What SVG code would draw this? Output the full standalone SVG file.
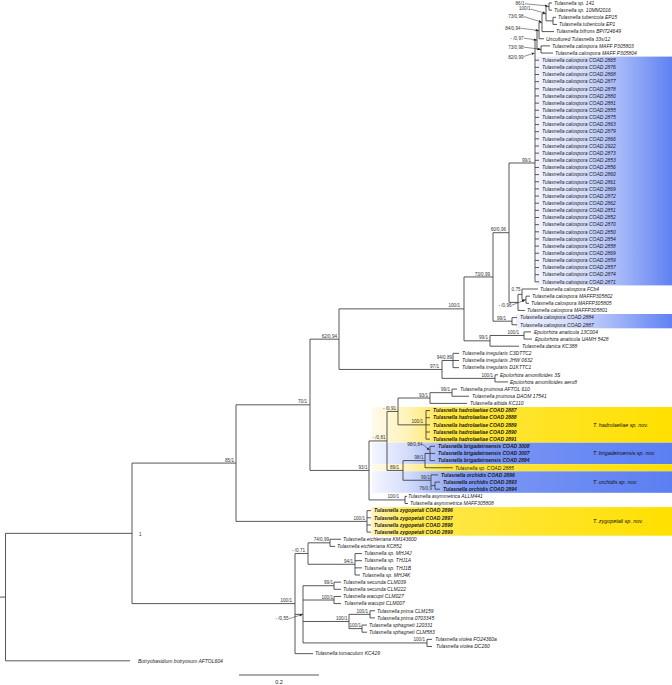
<svg xmlns="http://www.w3.org/2000/svg" width="672" height="685" viewBox="0 0 672 685">
<defs>
<style>
.l{font-family:"Liberation Sans",Arial,sans-serif;font-size:5px;font-style:italic;fill:#1a1a1a}
.b{font-weight:bold}
.s{font-family:"Liberation Sans",Arial,sans-serif;font-size:4.6px;fill:#333;text-anchor:end}
.t{font-family:"Liberation Sans",Arial,sans-serif;font-size:5.4px;font-style:italic;fill:#111}
.e{fill:none;stroke:#3a3a3a;stroke-width:0.85}
.a{fill:none;stroke:#222;stroke-width:0.5;marker-end:url(#ah)}
</style>
<linearGradient id="gUp" x1="0" y1="0" x2="1" y2="0">
<stop offset="0" stop-color="#f0f3fe"/><stop offset="0.35" stop-color="#d6defb"/><stop offset="1" stop-color="#5f81f2"/>
</linearGradient>
<linearGradient id="gBl" x1="0" y1="0" x2="1" y2="0">
<stop offset="0" stop-color="#f4f6ff"/><stop offset="0.12" stop-color="#d3dcfb"/><stop offset="0.3" stop-color="#7f9af4"/><stop offset="1" stop-color="#5b7ef2"/>
</linearGradient>
<linearGradient id="gYe" x1="0" y1="0" x2="1" y2="0">
<stop offset="0" stop-color="#fffaec"/><stop offset="0.12" stop-color="#fff2b8"/><stop offset="0.25" stop-color="#ffe640"/><stop offset="1" stop-color="#ffe000"/>
</linearGradient>
<linearGradient id="gZy" x1="0" y1="0" x2="1" y2="0">
<stop offset="0" stop-color="#fff4c0"/><stop offset="0.12" stop-color="#ffe850"/><stop offset="1" stop-color="#ffe000"/>
</linearGradient>
<marker id="ah" viewBox="0 0 6 6" refX="5.5" refY="3" markerWidth="3" markerHeight="3" markerUnits="userSpaceOnUse" orient="auto"><path d="M0,0.5L6,3L0,5.5z" fill="#222"/></marker>
</defs>
<rect width="672" height="685" fill="#fff"/>
<g id="clade-boxes">
<rect x="536.5" y="56.6" width="135.5" height="228.8" fill="url(#gUp)"/>
<rect x="516" y="314" width="156" height="14.3" fill="url(#gUp)"/>
<rect x="372" y="407" width="300" height="35.7" fill="url(#gYe)"/>
<rect x="372" y="442.7" width="300" height="21.5" fill="url(#gBl)"/>
<rect x="372" y="464.2" width="300" height="7.1" fill="url(#gYe)"/>
<rect x="372" y="471.3" width="300" height="21.5" fill="url(#gBl)"/>
<rect x="371" y="507.1" width="301" height="28.6" fill="url(#gZy)"/>
</g>
<g id="connectors" class="e">
<path d="M0,597.08H5.5M5.5,533.35V660.8M5.5,533.35H132M5.5,660.8H130"/>
<path d="M132,463.09V603.6M132,463.09H236M132,603.6H295"/>
<path d="M236,404.8V521.38M236,404.8H310M236,521.38H367"/>
<path d="M367,510.65V532.1M367,510.65H371M367,517.8H371M367,524.95H371M367,532.1H371"/>
<path d="M310,339.17V470.43M310,339.17H339M310,470.43H369"/>
<path d="M339,308.89V369.44M339,308.89H464M339,369.44H442"/>
<path d="M464,276.94V340.84M464,276.94H493M464,340.84H490"/>
<path d="M493,232.7V321.18M493,232.7H509M493,321.18H512"/>
<path d="M512,317.6V324.75M512,317.6H517M512,324.75H517"/>
<path d="M509,163V302.4M509,163H535M509,302.4H518"/>
<path d="M535,40.09V281.85M535,40.09H537M535,60.2H539M535,67.35H539M535,74.5H539M535,81.65H539M535,88.8H539M535,95.95H539M535,103.1H539M535,110.25H539M535,117.4H539M535,124.55H539M535,131.7H539M535,138.85H539M535,146H539M535,153.15H539M535,160.3H539M535,167.45H539M535,174.6H539M535,181.75H539M535,188.9H539M535,196.05H539M535,203.2H539M535,210.35H539M535,217.5H539M535,224.65H539M535,231.8H539M535,238.95H539M535,246.1H539M535,253.25H539M535,260.4H539M535,267.55H539M535,274.7H539M535,281.85H539"/>
<path d="M537,30.7V49.48M537,30.7H539M537,49.48H541"/>
<path d="M539,22.66V38.75M539,22.66H542M539,38.75H544"/>
<path d="M542,13.73V31.6M542,13.73H546M542,31.6H554"/>
<path d="M546,6.58V20.88M546,6.58H549M546,20.88H553"/>
<path d="M549,3V10.15M549,3H552M549,10.15H552"/>
<path d="M553,17.3V24.45M553,17.3H556M553,24.45H557"/>
<path d="M541,45.9V53.05M541,45.9H550M541,53.05H553"/>
<path d="M518,294.36V310.45M518,294.36H522M518,310.45H525"/>
<path d="M522,289V299.73M522,289H538M522,299.73H526"/>
<path d="M526,296.15V303.3M526,296.15H530M526,303.3H529"/>
<path d="M490,335.48V346.2M490,335.48H524M490,346.2H519"/>
<path d="M524,331.9V339.05M524,331.9H531M524,339.05H532"/>
<path d="M442,360.5V378.38M442,360.5H453M442,378.38H495"/>
<path d="M453,353.35V367.65M453,353.35H459M453,360.5H459M453,367.65H459"/>
<path d="M495,374.8V381.95M495,374.8H498M495,381.95H508"/>
<path d="M369,440.94V499.93M369,440.94H387M369,499.93H405"/>
<path d="M405,496.35V503.5M405,496.35H407M405,503.5H408"/>
<path d="M387,411.45V470.43M387,411.45H398M387,470.43H403"/>
<path d="M398,398.04V424.85M398,398.04H430M398,424.85H426"/>
<path d="M430,392.68V403.4M430,392.68H452M430,403.4H467"/>
<path d="M452,389.1V396.25M452,389.1H457M452,396.25H469"/>
<path d="M426,410.55V439.15M426,410.55H430M426,417.7H430M426,424.85H430M426,432H430M426,439.15H430"/>
<path d="M403,460.6V480.26M403,460.6H425M403,480.26H431"/>
<path d="M425,453.45V467.75M425,453.45H430M425,467.75H453"/>
<path d="M430,446.3V460.6M430,446.3H435M430,453.45H435M430,460.6H435"/>
<path d="M431,474.9V485.63M431,474.9H438M431,485.63H435"/>
<path d="M435,482.05V489.2M435,482.05H440M435,489.2H440"/>
<path d="M295,553.55V653.65M295,553.55H308M295,614.33H303M295,653.65H313"/>
<path d="M308,542.83V564.28M308,542.83H330M308,564.28H355"/>
<path d="M330,539.25V546.4M330,539.25H341M330,546.4H335"/>
<path d="M355,553.55V575M355,553.55H362M355,560.7H362M355,567.85H362M355,575H360"/>
<path d="M303,585.73V642.93M303,585.73H334M303,600.03H334M303,621.48H349M303,642.93H427"/>
<path d="M334,582.15V589.3M334,582.15H341M334,589.3H341"/>
<path d="M334,596.45V603.6M334,596.45H341M334,603.6H341"/>
<path d="M349,614.33V628.63M349,614.33H370M349,628.63H362"/>
<path d="M370,610.75V617.9M370,610.75H375M370,617.9H375"/>
<path d="M362,625.05V632.2M362,625.05H367M362,632.2H367"/>
<path d="M427,639.35V646.5M427,639.35H432M427,646.5H432"/>
<path d="M239,675H319"/>
</g>
<g id="arrows">
<path class="a" d="M525,3.8L547.5,5.9"/>
<path class="a" d="M531,9.2L545.3,13.3"/>
<path class="a" d="M524,16.6L541.3,22"/>
<path class="a" d="M521,28.3L538.3,30.4"/>
<path class="a" d="M524,38.2L536.3,39.9"/>
<path class="a" d="M524,47.2L540.3,49.2"/>
<path class="a" d="M524,56.4L534.3,53"/>
<path class="a" d="M512,305L524.8,300.3"/>
<path class="a" d="M423,444.6L429.4,450"/>
<path class="a" d="M289,618.6L302.3,614.6"/>
</g>
<g id="supports" class="s">
<text x="524.5" y="4.8">86/1</text>
<text x="530.5" y="10.3">100/1</text>
<text x="523.5" y="18">73/0,98</text>
<text x="520.5" y="29.8">84/0,94</text>
<text x="523.5" y="39.8">- /0,97</text>
<text x="523.5" y="48.8">73/0,98</text>
<text x="523.5" y="58.8">82/0,99</text>
<text x="531" y="161.5">99/1</text>
<text x="506" y="231.3">60/0,96</text>
<text x="490" y="275.5">73/0,99</text>
<text x="520.5" y="291">0,75</text>
<text x="511.5" y="306.8">- /0,96</text>
<text x="506" y="319.6">99/1</text>
<text x="460" y="307.3">100/1</text>
<text x="488" y="339.3">99/1</text>
<text x="519" y="333.9">100/1</text>
<text x="337" y="337.6">62/0,94</text>
<text x="439" y="367.9">97/1</text>
<text x="452" y="358.9">94/0,89</text>
<text x="493" y="376.8">100/1</text>
<text x="307" y="403.2">70/1</text>
<text x="450" y="391.1">99/1</text>
<text x="428" y="396.5">93/1</text>
<text x="396" y="409.9">- /0,91</text>
<text x="423" y="423.3">100/1</text>
<text x="385.5" y="439.4">- /0,81</text>
<text x="422.5" y="446">98/0,84</text>
<text x="423.5" y="459">98/1</text>
<text x="399" y="468.9">89/1</text>
<text x="367.5" y="468.9">93/1</text>
<text x="430" y="478.7">99/1</text>
<text x="432" y="490.2">76/0,9</text>
<text x="399" y="498.4">100/1</text>
<text x="365" y="519.8">100/1</text>
<text x="234" y="461.5">85/1</text>
<text x="139" y="535.6" text-anchor="start">1</text>
<text x="292" y="602">100/1</text>
<text x="305" y="552">- /0,71</text>
<text x="329" y="541.3">74/0,99</text>
<text x="353" y="562.7">94/1</text>
<text x="333" y="584.2">99/1</text>
<text x="333" y="598.5">100/1</text>
<text x="347.5" y="620">100/1</text>
<text x="368" y="612.8">100/1</text>
<text x="361" y="627.1">100/1</text>
<text x="425" y="641.4">100/1</text>
<text x="288.5" y="620.3">- /0,55</text>
</g>
<g id="leaves" class="l">
<g id="n1"><text x="554" y="4.75">Tulasnella sp. 141</text></g>
<g id="n2"><text x="554" y="11.9">Tulasnella sp. 10MM2016</text></g>
<g id="n3"><text x="558" y="19.05">Tulasnella tubericola EP15</text></g>
<g id="n4"><text x="559" y="26.2">Tulasnella tubericola EP1</text></g>
<g id="n5"><text x="556" y="33.35">Tulasnella bifrons BPI724649</text></g>
<g id="n6"><text x="546" y="40.5">Uncultured Tulasnella 33s/12</text></g>
<g id="n7"><text x="552" y="47.65">Tulasnella calospora MAFF P305803</text></g>
<g id="n8"><text x="555" y="54.8">Tulasnella calospora MAFF P305804</text></g>
<g id="n9"><text x="542" y="61.95">Tulasnella calospora COAD 2865</text></g>
<g id="n10"><text x="542" y="69.1">Tulasnella calospora COAD 2876</text></g>
<g id="n11"><text x="542" y="76.25">Tulasnella calospora COAD 2868</text></g>
<g id="n12"><text x="542" y="83.4">Tulasnella calospora COAD 2877</text></g>
<g id="n13"><text x="542" y="90.55">Tulasnella calospora COAD 2878</text></g>
<g id="n14"><text x="542" y="97.7">Tulasnella calospora COAD 2880</text></g>
<g id="n15"><text x="542" y="104.85">Tulasnella calospora COAD 2881</text></g>
<g id="n16"><text x="542" y="112">Tulasnella calospora COAD 2855</text></g>
<g id="n17"><text x="542" y="119.15">Tulasnella calospora COAD 2875</text></g>
<g id="n18"><text x="542" y="126.3">Tulasnella calospora COAD 2863</text></g>
<g id="n19"><text x="542" y="133.45">Tulasnella calospora COAD 2879</text></g>
<g id="n20"><text x="542" y="140.6">Tulasnella calospora COAD 2866</text></g>
<g id="n21"><text x="542" y="147.75">Tulasnella calospora COAD 2922</text></g>
<g id="n22"><text x="542" y="154.9">Tulasnella calospora COAD 2873</text></g>
<g id="n23"><text x="542" y="162.05">Tulasnella calospora COAD 2853</text></g>
<g id="n24"><text x="542" y="169.2">Tulasnella calospora COAD 2856</text></g>
<g id="n25"><text x="542" y="176.35">Tulasnella calospora COAD 2860</text></g>
<g id="n26"><text x="542" y="183.5">Tulasnella calospora COAD 2861</text></g>
<g id="n27"><text x="542" y="190.65">Tulasnella calospora COAD 2869</text></g>
<g id="n28"><text x="542" y="197.8">Tulasnella calospora COAD 2872</text></g>
<g id="n29"><text x="542" y="204.95">Tulasnella calospora COAD 2862</text></g>
<g id="n30"><text x="542" y="212.1">Tulasnella calospora COAD 2851</text></g>
<g id="n31"><text x="542" y="219.25">Tulasnella calospora COAD 2852</text></g>
<g id="n32"><text x="542" y="226.4">Tulasnella calospora COAD 2870</text></g>
<g id="n33"><text x="542" y="233.55">Tulasnella calospora COAD 2850</text></g>
<g id="n34"><text x="542" y="240.7">Tulasnella calospora COAD 2854</text></g>
<g id="n35"><text x="542" y="247.85">Tulasnella calospora COAD 2858</text></g>
<g id="n36"><text x="542" y="255">Tulasnella calospora COAD 2869</text></g>
<g id="n37"><text x="542" y="262.15">Tulasnella calospora COAD 2859</text></g>
<g id="n38"><text x="542" y="269.3">Tulasnella calospora COAD 2857</text></g>
<g id="n39"><text x="542" y="276.45">Tulasnella calospora COAD 2874</text></g>
<g id="n40"><text x="542" y="283.6">Tulasnella calospora COAD 2871</text></g>
<g id="n41"><text x="540" y="290.75">Tulasnella calospora FCb4</text></g>
<g id="n42"><text x="532" y="297.9">Tulasnella calospora MAFFP305802</text></g>
<g id="n43"><text x="531" y="305.05">Tulasnella calospora MAFFP305805</text></g>
<g id="n44"><text x="527" y="312.2">Tulasnella calospora MAFFP305801</text></g>
<g id="n45"><text x="520" y="319.35">Tulasnella calospora COAD 2884</text></g>
<g id="n46"><text x="520" y="326.5">Tulasnella calospora COAD 2887</text></g>
<g id="n47"><text x="534" y="333.65">Epulorhiza anaticula 13C004</text></g>
<g id="n48"><text x="535" y="340.8">Epulorhiza anaticula UAMH 5428</text></g>
<g id="n49"><text x="522" y="347.95">Tulasnella danica KC388</text></g>
<g id="n50"><text x="462" y="355.1">Tulasnella irregularis C3DTTC2</text></g>
<g id="n51"><text x="462" y="362.25">Tulasnella irregularis JHW 0632</text></g>
<g id="n52"><text x="462" y="369.4">Tulasnella irregularis D1KTTC1</text></g>
<g id="n53"><text x="500" y="376.55">Epulorhiza amonilioides 3S</text></g>
<g id="n54"><text x="510" y="383.7">Epulorhiza amonilioides aero8</text></g>
<g id="n55"><text x="460" y="390.85">Tulasnella pruinosa AFTOL 610</text></g>
<g id="n56"><text x="472" y="398">Tulasnella pruinosa DAOM 17541</text></g>
<g id="n57"><text x="470" y="405.15">Tulasnella albida KC110</text></g>
<g id="n58"><text class="b" x="433" y="412.3">Tulasnella hadrolaeliae COAD 2887</text></g>
<g id="n59"><text class="b" x="433" y="419.45">Tulasnella hadrolaeliae COAD 2888</text></g>
<g id="n60"><text class="b" x="433" y="426.6">Tulasnella hadrolaeliae COAD 2889</text></g>
<g id="n61"><text class="b" x="433" y="433.75">Tulasnella hadrolaeliae COAD 2890</text></g>
<g id="n62"><text class="b" x="433" y="440.9">Tulasnella hadrolaeliae COAD 2891</text></g>
<g id="n63"><text class="b" x="438" y="448.05">Tulasnella brigadeiroensis COAD 3008</text></g>
<g id="n64"><text class="b" x="438" y="455.2">Tulasnella brigadeiroensis COAD 3007</text></g>
<g id="n65"><text class="b" x="438" y="462.35">Tulasnella brigadeiroensis COAD 2884</text></g>
<g id="n66"><text x="455" y="469.5">Tulasnella sp. COAD 2885</text></g>
<g id="n67"><text class="b" x="441" y="476.65">Tulasnella orchidis COAD 2896</text></g>
<g id="n68"><text class="b" x="443" y="483.8">Tulasnella orchidis COAD 2893</text></g>
<g id="n69"><text class="b" x="443" y="490.95">Tulasnella orchidis COAD 2894</text></g>
<g id="n70"><text x="408" y="498.1">Tulasnella asymmetrica ALLM441</text></g>
<g id="n71"><text x="410" y="505.25">Tulasnella asymmetrica MAFF305808</text></g>
<g id="n72"><text class="b" x="374" y="512.4">Tulasnella zygopetali COAD 2896</text></g>
<g id="n73"><text class="b" x="374" y="519.55">Tulasnella zygopetali COAD 2897</text></g>
<g id="n74"><text class="b" x="374" y="526.7">Tulasnella zygopetali COAD 2898</text></g>
<g id="n75"><text class="b" x="374" y="533.85">Tulasnella zygopetali COAD 2899</text></g>
<g id="n76"><text x="343" y="541">Tulasnella eichleriana KM143600</text></g>
<g id="n77"><text x="337" y="548.15">Tulasnella eichleriana KC852</text></g>
<g id="n78"><text x="364" y="555.3">Tulasnella sp. MHJ4J</text></g>
<g id="n79"><text x="364" y="562.45">Tulasnella sp. THJ1A</text></g>
<g id="n80"><text x="364" y="569.6">Tulasnella sp. THJ1B</text></g>
<g id="n81"><text x="362" y="576.75">Tulasnella sp. MHJ4K</text></g>
<g id="n82"><text x="343" y="583.9">Tulasnella secunda CLM039</text></g>
<g id="n83"><text x="343" y="591.05">Tulasnella secunda CLM222</text></g>
<g id="n84"><text x="343" y="598.2">Tulasnella wacupii CLM027</text></g>
<g id="n85"><text x="344" y="605.35">Tulasnella wacupii CLM007</text></g>
<g id="n86"><text x="377" y="612.5">Tulasnella prima CLM159</text></g>
<g id="n87"><text x="377" y="619.65">Tulasnella prima 0703345</text></g>
<g id="n88"><text x="369" y="626.8">Tulasnella sphagneti 120331</text></g>
<g id="n89"><text x="369" y="633.95">Tulasnella sphagneti CLM583</text></g>
<g id="n90"><text x="435" y="641.1">Tulasnella violea  FO24360a</text></g>
<g id="n91"><text x="436" y="648.25">Tulasnella violea DC260</text></g>
<g id="n92"><text x="315" y="655.4">Tulasnella tomaculum KC429</text></g>
<g id="n93"><text x="138" y="662.55">Botryobasidium botryosum AFTOL604</text></g>
</g>
<g id="species-labels" class="t">
<text x="593" y="426.8">T. hadrolaeliae sp. nov.</text>
<text x="593" y="455.4">T. brigadeiroensis sp. nov.</text>
<text x="593" y="483.8">T. orchidis sp. nov.</text>
<text x="593" y="523.3">T. zygopetali sp. nov.</text>
</g>
<g id="scale"><text x="279" y="684" text-anchor="middle" style="font-family:'Liberation Sans',Arial,sans-serif;font-size:5.5px;fill:#222">0.2</text></g>
</svg>
